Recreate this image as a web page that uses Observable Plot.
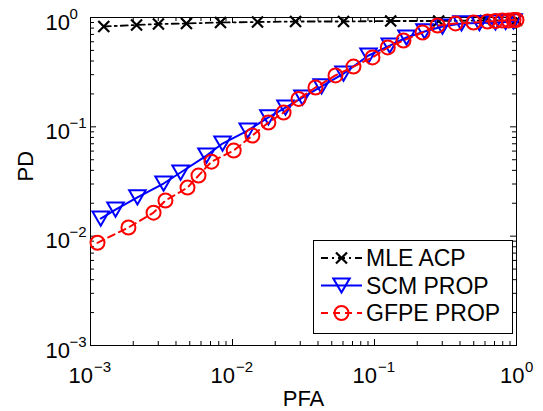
<!DOCTYPE html>
<html><head><meta charset="utf-8">
<script src="https://cdn.jsdelivr.net/npm/d3@7"></script>
<script src="https://cdn.jsdelivr.net/npm/@observablehq/plot@0.6"></script>
<style>
html,body{margin:0;padding:0;background:#fff}
#chart{position:relative;width:543px;height:411px}
</style>
</head><body><div id="chart"></div>
<script>
// ---------- data ----------
const seriesNames = ["MLE ACP", "SCM PROP", "GFPE PROP"];

const pfaMLE = [0.00124, 0.00211, 0.00301, 0.00474, 0.00823, 0.0150, 0.0278, 0.0605, 0.130, 0.283, 0.605, 1.0];
const pdMLE  = [0.827, 0.854, 0.872, 0.882, 0.900, 0.910, 0.919, 0.919, 0.929, 0.929, 0.939, 0.945];

const pfaSCM = [0.00118, 0.00150, 0.00214, 0.00327, 0.00431, 0.00656, 0.00851, 0.0128, 0.0179, 0.0236, 0.0311, 0.0424, 0.0605, 0.0908, 0.128, 0.168, 0.225, 0.301, 0.410, 0.548, 0.711, 0.838, 0.953];
const pdSCM  = [0.0145, 0.0175, 0.0226, 0.0303, 0.0382, 0.0546, 0.0703, 0.0925, 0.122, 0.150, 0.185, 0.234, 0.307, 0.449, 0.554, 0.656, 0.745, 0.827, 0.882, 0.89, 0.90, 0.91, 0.92];

const pfaGFPE = [0.00112, 0.00185, 0.00278, 0.00337, 0.00482, 0.00576, 0.00711, 0.0102, 0.0138, 0.0179, 0.0229, 0.0292, 0.0384, 0.0531, 0.0711, 0.0968, 0.124, 0.160, 0.218, 0.278, 0.372, 0.498, 0.625, 0.711, 0.796, 0.880, 0.953, 1.0];
const pdGFPE  = [0.0087, 0.0120, 0.0164, 0.0212, 0.0278, 0.0358, 0.048, 0.0607, 0.0832, 0.1095, 0.135, 0.18, 0.229, 0.295, 0.356, 0.431, 0.532, 0.616, 0.729, 0.845, 0.882, 0.900, 0.919, 0.929, 0.939, 0.939, 0.95, 0.95];

const tickValues = [0.001, 0.01, 0.1, 1];
const tickExponents = ["\u22123", "\u22122", "\u22121", "0"];
const minorMultipliers = [2, 3, 4, 5, 6, 7, 8, 9];

// ---------- helpers ----------
const toRows = (xs, ys) => xs.map((x, i) => ({pfa: x, pd: ys[i]}));
const mle = toRows(pfaMLE, pdMLE);
const scm = toRows(pfaSCM, pdSCM);
const gfpe = toRows(pfaGFPE, pdGFPE);
const minorTicks = tickValues.slice(0, -1).flatMap(d => minorMultipliers.map(m => d * m));
const tickLabels = tickValues.map((v, i) => ({v, e: tickExponents[i]}));
const negLabels = tickLabels.filter(d => d.e !== "0");
const zeroLabels = tickLabels.filter(d => d.e === "0");

const timesSym = {draw(ctx, size) { const r = Math.sqrt(size / Math.PI);
  ctx.moveTo(-r, -r); ctx.lineTo(r, r); ctx.moveTo(-r, r); ctx.lineTo(r, -r); }};
const triDownSym = {draw(ctx, size) { const r = Math.sqrt(size / Math.PI);
  ctx.moveTo(-1.1 * r, -0.95 * r); ctx.lineTo(1.1 * r, -0.95 * r); ctx.lineTo(0, 0.95 * r); ctx.closePath(); }};

const W = 543, H = 411, mL = 90, mR = 27, mT = 17, mB = 66;
const plotW = W - mL - mR, plotH = H - mT - mB;
const font = "'Liberation Sans', Arial, Helvetica, sans-serif";
const majorLen = 6, minorLen = 4;
const fs = 22, fsExp = 15;

const chart = Plot.plot({
  width: W, height: H,
  marginLeft: mL, marginRight: mR, marginTop: mT, marginBottom: mB,
  style: {fontFamily: font, background: "white", color: "black", overflow: "visible"},
  x: {type: "log", domain: [1e-3, 1], axis: null},
  y: {type: "log", domain: [1e-3, 1], axis: null},
  marks: [
    // inward ticks on all four sides
    Plot.tickX(tickValues, {x: d => d, insetTop: plotH - majorLen}),
    Plot.tickX(tickValues, {x: d => d, insetBottom: plotH - majorLen}),
    Plot.tickX(minorTicks, {x: d => d, insetTop: plotH - minorLen}),
    Plot.tickX(minorTicks, {x: d => d, insetBottom: plotH - minorLen}),
    Plot.tickY(tickValues, {y: d => d, insetRight: plotW - majorLen}),
    Plot.tickY(tickValues, {y: d => d, insetLeft: plotW - majorLen}),
    Plot.tickY(minorTicks, {y: d => d, insetRight: plotW - minorLen}),
    Plot.tickY(minorTicks, {y: d => d, insetLeft: plotW - minorLen}),
    Plot.frame({stroke: "black", strokeWidth: 1}),
    // series
    Plot.line(mle, {x: "pfa", y: "pd", stroke: "black", strokeWidth: 1.8, strokeDasharray: "7,4,2,4"}),
    Plot.dot(mle, {x: "pfa", y: "pd", symbol: timesSym, r: 5.5, stroke: "black", strokeWidth: 2.2, fill: "none"}),
    Plot.line(scm, {x: "pfa", y: "pd", stroke: "#0000ff", strokeWidth: 2}),
    Plot.dot(scm, {x: "pfa", y: "pd", symbol: triDownSym, r: 7.5, stroke: "#0000ff", strokeWidth: 2, fill: "none"}),
    Plot.line(gfpe, {x: "pfa", y: "pd", stroke: "#ff0000", strokeWidth: 2, strokeDasharray: "7,5"}),
    Plot.dot(gfpe, {x: "pfa", y: "pd", symbol: "circle", r: 7, stroke: "#ff0000", strokeWidth: 2, fill: "none"}),
    // x tick labels
    Plot.text(negLabels, {x: "v", frameAnchor: "bottom", text: () => "10", textAnchor: "start", lineAnchor: "bottom", dx: -22, dy: 37, fontSize: fs}),
    Plot.text(negLabels, {x: "v", frameAnchor: "bottom", text: "e", textAnchor: "start", lineAnchor: "bottom", dx: 3.5, dy: 26, fontSize: fsExp}),
    Plot.text(zeroLabels, {x: "v", frameAnchor: "bottom", text: () => "10", textAnchor: "start", lineAnchor: "bottom", dx: -16.5, dy: 37, fontSize: fs}),
    Plot.text(zeroLabels, {x: "v", frameAnchor: "bottom", text: "e", textAnchor: "start", lineAnchor: "bottom", dx: 8.5, dy: 26, fontSize: fsExp}),
    // y tick labels
    Plot.text(tickLabels, {y: "v", frameAnchor: "left", text: () => "10", textAnchor: "start", lineAnchor: "bottom", dx: -45, dy: 12, fontSize: fs}),
    Plot.text(tickLabels, {y: "v", frameAnchor: "left", text: "e", textAnchor: "start", lineAnchor: "bottom", dx: -21, dy: 1, fontSize: fsExp}),
    // axis titles
    Plot.text(["PFA"], {frameAnchor: "bottom", text: d => d, lineAnchor: "bottom", dy: 60, fontSize: fs}),
    Plot.text(["PD"], {frameAnchor: "left", text: d => d, lineAnchor: "bottom", rotate: -90, dx: -58, fontSize: fs})
  ]
});
document.getElementById("chart").appendChild(chart);

// ---------- legend (inside the axes, lower right) ----------
const svg = d3.select(chart);
const lg = svg.append("g").attr("font-family", font).attr("font-size", 23).attr("text-anchor", "start");
const box = {x: 313, y: 240, w: 199, h: 93};
lg.append("rect").attr("x", box.x + 0.5).attr("y", box.y + 0.5).attr("width", box.w).attr("height", box.h)
  .attr("fill", "white").attr("stroke", "black").attr("stroke-width", 1);
const legendStyles = [
  {color: "black", dash: "7,4,2,4", sym: timesSym, r: 5.5, sw: 2.2},
  {color: "#0000ff", dash: null, sym: triDownSym, r: 7.5, sw: 2},
  {color: "#ff0000", dash: "7,5", sym: d3.symbolCircle, r: 7, sw: 2}
];
seriesNames.forEach((name, i) => {
  const st = legendStyles[i];
  const cy = 258 + i * 27.5;
  lg.append("line").attr("x1", 321).attr("x2", 362).attr("y1", cy).attr("y2", cy)
    .attr("stroke", st.color).attr("stroke-width", 2).attr("stroke-dasharray", st.dash);
  lg.append("path").attr("d", d3.symbol(st.sym, st.r * st.r * Math.PI)()).attr("transform", `translate(341.5,${cy})`)
    .attr("fill", "none").attr("stroke", st.color).attr("stroke-width", st.sw);
  lg.append("text").attr("x", 366).attr("y", cy + 8).attr("fill", "black").attr("text-anchor", "start").text(name);
});
</script>
</body></html>
